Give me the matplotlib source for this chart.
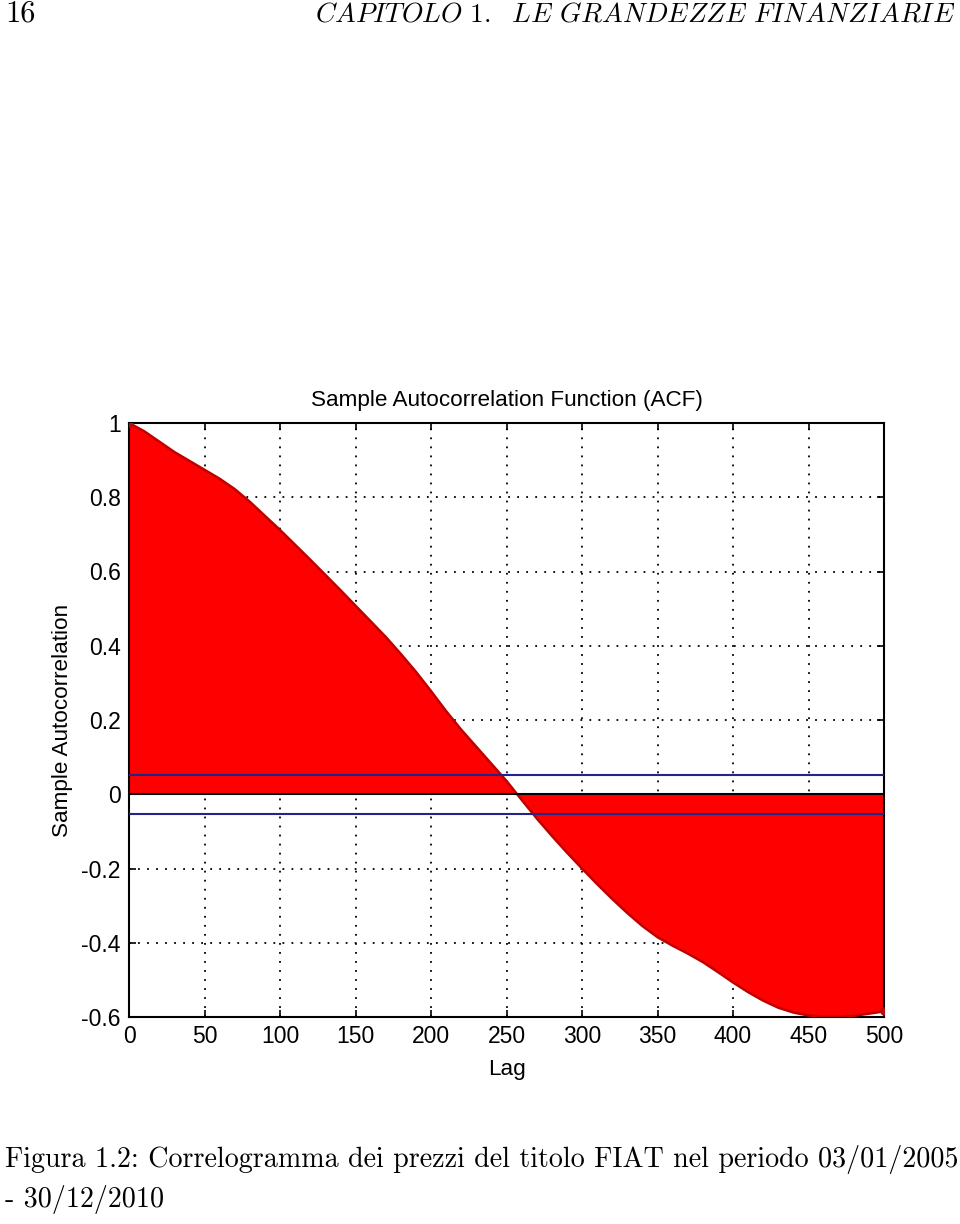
import numpy as np
import matplotlib
matplotlib.use("Agg")
import matplotlib.pyplot as plt

# ACF values, one every 10 lags
lags = [0, 10, 20, 30, 40, 50, 60, 70, 80, 90,
        100, 110, 120, 130, 140, 150, 160, 170, 180, 190,
        200, 210, 220, 230, 240, 250, 260, 270, 280, 290,
        300, 310, 320, 330, 340, 350, 360, 370, 380, 390,
        400, 410, 420, 430, 440, 450, 460, 470, 480, 490, 500]
acf = [1.000, 0.978, 0.950, 0.922, 0.898, 0.874, 0.850, 0.822, 0.788, 0.750,
       0.712, 0.672, 0.632, 0.591, 0.550, 0.508, 0.466, 0.424, 0.378, 0.330,
       0.278, 0.224, 0.174, 0.128, 0.082, 0.036, -0.015, -0.065, -0.112, -0.157,
       -0.200, -0.242, -0.282, -0.320, -0.355, -0.385, -0.408, -0.429, -0.452, -0.479,
       -0.507, -0.533, -0.556, -0.575, -0.588, -0.596, -0.600, -0.600, -0.597, -0.591,
       -0.585]
bound = 0.052  # confidence bounds

xticks = [0, 50, 100, 150, 200, 250, 300, 350, 400, 450, 500]
yticks = [-0.6, -0.4, -0.2, 0, 0.2, 0.4, 0.6, 0.8, 1]
ytick_labels = ["-0.6", "-0.4", "-0.2", "0", "0.2", "0.4", "0.6", "0.8", "1"]

plt.rcParams["mathtext.fontset"] = "cm"

fig = plt.figure(figsize=(9.6, 12.24), dpi=100)
ax = fig.add_axes([129 / 960, 1 - 1017 / 1224, 755 / 960, 594 / 1224])

# red stems drawn as a solid area, as they merge in the original
ax.fill_between(lags, acf, 0, color="red", linewidth=0, zorder=2)
ax.plot(lags, acf, color="#c00000", linewidth=1.8, zorder=3)
ax.plot([lags[0], lags[-1]], [acf[0], acf[-1]], "o", color="#b01010",
        markersize=5, zorder=4)

# baseline and bounds
ax.axhline(0, color="black", linewidth=1.5, zorder=3)
ax.axhline(bound, color="#23238a", linewidth=1.5, zorder=4)
ax.axhline(-bound, color="#23238a", linewidth=1.5, zorder=4)

ax.set_xlim(0, 500)
ax.set_ylim(-0.6, 1)
ax.set_xticks(xticks)
ax.set_yticks(yticks)
ax.set_yticklabels(ytick_labels)
ax.grid(True, linestyle=(0, (1, 4)), color="black", linewidth=1.3)
ax.set_axisbelow(True)
ax.tick_params(direction="in", length=5, width=1.2, top=True, right=True,
               labelsize=16.5, pad=6)
for lab in ax.get_xticklabels() + ax.get_yticklabels():
    lab.set_fontfamily("Liberation Sans")
for s in ax.spines.values():
    s.set_linewidth(1.5)

ax.set_title("Sample Autocorrelation Function (ACF)", fontsize=16.2,
             family="Liberation Sans", pad=12)
ax.set_xlabel("Lag", fontsize=16.2, family="Liberation Sans", labelpad=8)
ax.set_ylabel("Sample Autocorrelation", fontsize=16.2, family="Liberation Sans",
              labelpad=6)

# page header and caption
fig.text(5 / 960, 1 - 14 / 1224, "16", family="cmr10", fontsize=22,
         va="center", ha="left")
fig.text(955 / 960, 1 - 14 / 1224,
         r"$\mathit{CAPITOLO\ 1.\ \ LE\ GRANDEZZE\ FINANZIARIE}$",
         fontsize=19.8, va="center", ha="right")
fig.text(5 / 960, 1 - 1160 / 1224,
         "Figura 1.2: Correlogramma dei prezzi del titolo FIAT nel periodo 03/01/2005",
         family="cmr10", fontsize=20.2, va="center", ha="left")
fig.text(5 / 960, 1 - 1200 / 1224, "- 30/12/2010", family="cmr10",
         fontsize=20.2, va="center", ha="left")

fig.savefig("out.png", dpi=100)
